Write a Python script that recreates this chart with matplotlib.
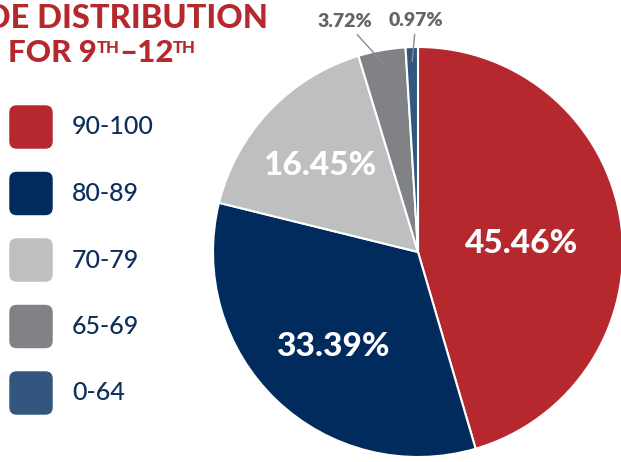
import numpy as np
import matplotlib
matplotlib.use("Agg")
import matplotlib.pyplot as plt
from matplotlib.patches import FancyBboxPatch

plt.rcParams["font.family"] = ["Lato", "DejaVu Sans"]

# данные
categories = ["90-100", "80-89", "70-79", "65-69", "0-64"]
shares = [45.46, 33.39, 16.45, 3.72, 0.97]
colors = ["#B5282E", "#002B5C", "#BEBFC1", "#808285", "#33567F"]
# радиальное положение подписей (доля радиуса), для мелких сегментов — вынос
label_r = [0.51, 0.60, 0.66, None, None]

W, H = 621, 462
fig = plt.figure(figsize=(W / 100, H / 100), dpi=100)

# круговая диаграмма
cx, cy, R = 418, 462 - 252, 205
ax = fig.add_axes([(cx - R) / W, (cy - R) / H, 2 * R / W, 2 * R / H])
wedges, _ = ax.pie(shares, colors=colors, startangle=90, counterclock=False,
                   wedgeprops=dict(edgecolor="white", linewidth=1.5))
for w in wedges:
    w.set_clip_on(False)
ax.set_xlim(-1, 1)
ax.set_ylim(-1, 1)
ax.set_aspect("equal")
ax.axis("off")

for w, val, r in zip(wedges, shares, label_r):
    mid = np.deg2rad((w.theta1 + w.theta2) / 2)
    if r is not None:
        ax.text(r * np.cos(mid), r * np.sin(mid) - 0.03, f"{val:.2f}%", color="white",
                fontsize=24, fontweight="black", ha="center", va="center")

# выноски для мелких сегментов
outer = [(-0.356, 1.125), (-0.01, 1.13)]
for w, val, pos in zip(wedges[3:], shares[3:], outer):
    mid = np.deg2rad((w.theta1 + w.theta2) / 2)
    ax.annotate(f"{val:.2f}%", xy=(0.93 * np.cos(mid), 0.93 * np.sin(mid)),
                xytext=pos, ha="center", va="center", color="#646569",
                fontsize=14, fontweight="heavy", annotation_clip=False,
                arrowprops=dict(arrowstyle="-", color="#8A8B8E", lw=1,
                                shrinkA=2, shrinkB=0))

# легенда
for i, (cat, col) in enumerate(zip(categories, colors)):
    yc = 462 - (127 + 66.5 * i)
    box = FancyBboxPatch(((9 + 4) / W, (yc - 22 + 4) / H), 36 / W, 36 / H,
                         boxstyle="round,pad=0.006,rounding_size=0.012",
                         transform=fig.transFigure, facecolor=col,
                         edgecolor="none", mutation_aspect=W / H)
    fig.patches.append(box)
    fig.text(72 / W, yc / H, cat, color="#0E2F5A", fontsize=18,
             fontweight="medium", ha="left", va="center")

# заголовок (обрезан слева, как в оригинале)
red = "#B5282E"
fig.text(268 / W, (462 - 19) / H, "GRADE DISTRIBUTION", color=red,
         fontsize=23.5, fontweight="black", ha="right", va="center")

renderer = fig.canvas.get_renderer()
x = 8
parts = [("FOR 9", 22.5, 0), ("TH", 12, 9), ("–12", 22.5, 0), ("TH", 12, 9)]
for s, size, dy in parts:
    t = fig.text(x / W, (462 - 62 + dy) / H, s, color=red, fontsize=size,
                 fontweight="black", ha="left", va="baseline")
    x = t.get_window_extent(renderer).x1 - 0.5

fig.savefig("out.png", dpi=100)
